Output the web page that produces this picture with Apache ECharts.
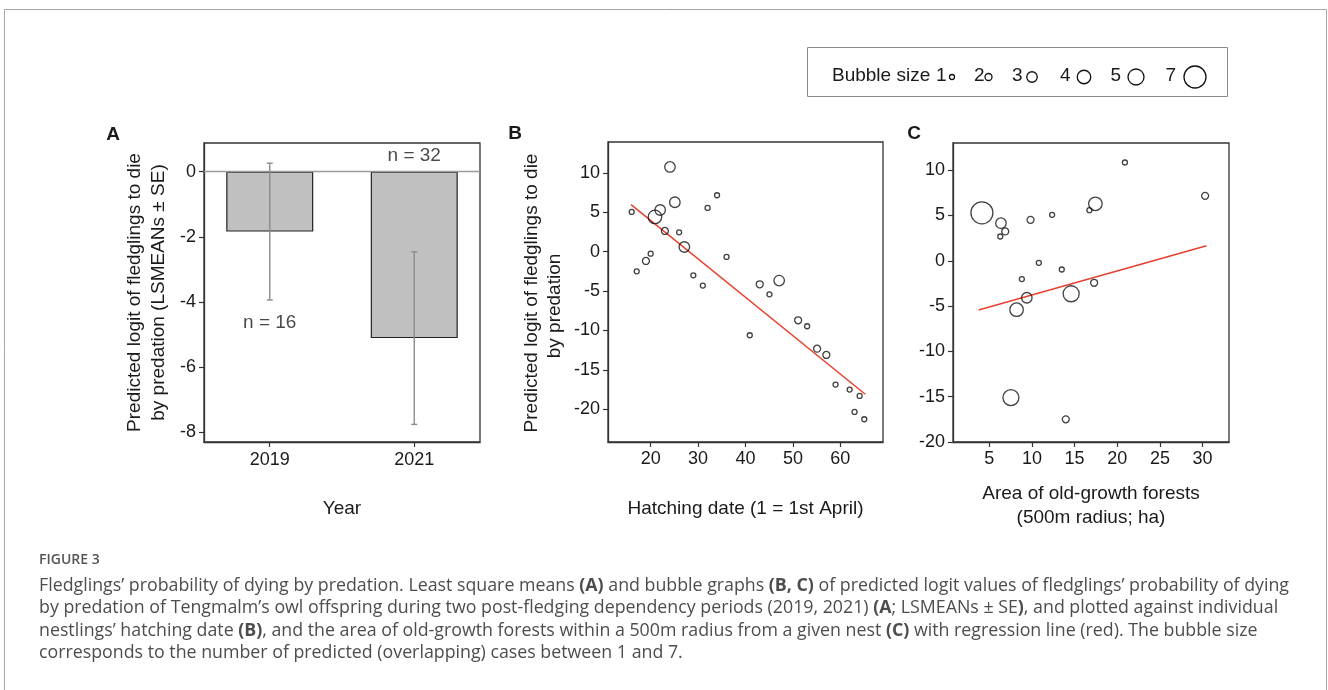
<!DOCTYPE html>
<html><head><meta charset="utf-8">
<script src="https://cdn.jsdelivr.net/npm/echarts@6/dist/echarts.min.js"></script>
<style>html,body{margin:0;padding:0;background:#fff;} #c{width:1328px;height:690px;}</style>
</head><body><div id="c"></div>
<script>
// ---------- data ----------
const yearCats = ['2019', '2021'];
const lsmeans = [-1.84, -5.11];
const lsmeanSE = [2.1, 2.65];
const nLabels = ['n = 16', 'n = 32'];
const nLabelY = [-4.65, 0.5];

const hatchDate = [16, 17.05, 19, 20, 20.9, 22, 23, 24.07, 25.1, 26, 27.1, 29, 31, 32, 34, 36, 40.9, 43, 45.05, 47.1, 51.1, 53, 55.1, 57.05, 59, 61.96, 63, 64.07, 65.05];
const logitB = [5.05, -2.48, -1.17, -0.24, 4.42, 5.3, 2.64, 10.76, 6.28, 2.47, 0.6, -2.99, -4.3, 5.56, 7.17, -0.66, -10.6, -4.13, -5.4, -3.66, -8.7, -9.46, -12.3, -13.1, -16.86, -17.5, -20.33, -18.3, -21.26];
const countB = [1, 1, 2, 1, 4, 3, 2, 3, 3, 1, 3, 1, 1, 1, 1, 1, 1, 2, 1, 3, 2, 1, 2, 2, 1, 1, 1, 1, 1];
const regB = [[15.86, 5.98], [65.26, -18.09]];

const forestArea = [4.14, 6.37, 6.29, 6.87, 7.54, 8.2, 8.82, 9.4, 9.84, 10.81, 12.37, 13.5, 13.97, 14.6, 16.74, 17.29, 17.44, 20.9, 30.3];
const logitC = [5.29, 4.15, 2.68, 3.24, -15.1, -5.4, -2.02, -4.08, 4.52, -0.22, 5.07, -0.96, -17.5, -3.64, 5.59, -2.43, 6.29, 10.85, 7.17];
const countC = [7, 3, 1, 2, 5, 4, 1, 3, 2, 1, 1, 1, 2, 5, 1, 2, 4, 1, 2];
const regC = [[3.75, -5.44], [30.47, 1.65]];

const ticksAy = [-8, -6, -4, -2, 0];
const ticksBy = [-20, -15, -10, -5, 0, 5, 10];
const ticksBx = [20, 30, 40, 50, 60];
const ticksCy = [-20, -15, -10, -5, 0, 5, 10];
const ticksCx = [5, 10, 15, 20, 25, 30];
const legendCounts = [1, 2, 3, 4, 5, 7];

const captionTitle = 'FIGURE 3';
const captionLines = [
  'Fledglings\u2019 probability of dying by predation. Least square means {b|(A)} and bubble graphs {b|(B, C)} of predicted logit values of fledglings\u2019 probability of dying',
  'by predation of Tengmalm\u2019s owl offspring during two post-fledging dependency periods (2019, 2021) {b|(A}; LSMEANs \u00b1 SE{b|)}, and plotted against individual',
  'nestlings\u2019 hatching date {b|(B)}, and the area of old-growth forests within a 500m radius from a given nest {b|(C)} with regression line (red). The bubble size',
  'corresponds to the number of predicted (overlapping) cases between 1 and 7.'
];

// ---------- styles ----------
const FONT = 'Liberation Sans, Arial, Helvetica, sans-serif';
const INK = '#1a1a1a';
const AXC = '#333';
const bubbleDiam = {1: 5, 2: 7, 3: 10.5, 4: 13.5, 5: 16, 6: 19, 7: 22};

function valAxis(gi, min, max, ticks, extra) {
  return Object.assign({
    type: 'value', gridIndex: gi, min: min, max: max,
    axisLine: {show: true, onZero: false, lineStyle: {color: AXC, width: 1.3}},
    axisTick: {show: true, inside: false, length: 5, customValues: ticks, lineStyle: {color: AXC, width: 1.2}},
    axisLabel: {customValues: ticks, margin: 8, color: INK, fontSize: 18, fontFamily: FONT},
    splitLine: {show: false},
    nameTextStyle: {color: INK, fontSize: 19, fontFamily: FONT, lineHeight: 24}
  }, extra || {});
}
const gridBase = {show: true, borderColor: AXC, borderWidth: 1.3, backgroundColor: 'transparent', containLabel: false, outerBoundsMode: 'none'};

const bubbleStyle = {color: 'rgba(0,0,0,0)', borderColor: '#111', borderWidth: 1.3};

// ---------- graphics (labels, legend, caption) ----------
const graphics = [];
graphics.push({type: 'rect', shape: {x: 4.5, y: 9.5, width: 1322, height: 720}, style: {fill: 'none', stroke: '#a6a6a6', lineWidth: 1}, silent: true});
[['A', 113, 135], ['B', 515, 134], ['C', 914, 134]].forEach(function (p) {
  graphics.push({type: 'text', x: p[1], y: p[2], style: {text: p[0], font: 'bold 19px ' + FONT, fill: INK, textAlign: 'center', textVerticalAlign: 'middle'}, silent: true});
});
// panel B y title
graphics.push({type: 'text', x: 532, y: 293, rotation: Math.PI / 2, style: {text: 'Predicted logit of fledglings to die', font: '19px ' + FONT, fill: INK, textAlign: 'center', textVerticalAlign: 'middle'}, silent: true});
graphics.push({type: 'text', x: 555, y: 306, rotation: Math.PI / 2, style: {text: 'by predation', font: '19px ' + FONT, fill: INK, textAlign: 'center', textVerticalAlign: 'middle'}, silent: true});
// legend
graphics.push({type: 'rect', shape: {x: 807.5, y: 47.5, width: 420, height: 49}, style: {fill: '#fff', stroke: '#8a8a8a', lineWidth: 1}, silent: true});
graphics.push({type: 'text', x: 832, y: 76, style: {text: 'Bubble size', font: '19px ' + FONT, fill: INK, textVerticalAlign: 'middle'}, silent: true});
const legendLayout = [[936, 952], [974, 988.5], [1012, 1032], [1060, 1084], [1110.5, 1136], [1165.5, 1195]];
legendCounts.forEach(function (c, i) {
  const L = legendLayout[i];
  graphics.push({type: 'text', x: L[0], y: 76, style: {text: String(c), font: '19px ' + FONT, fill: INK, textVerticalAlign: 'middle'}, silent: true});
  graphics.push({type: 'circle', shape: {cx: L[1], cy: 77, r: bubbleDiam[c] / 2}, style: {fill: 'none', stroke: '#111', lineWidth: 1.3}, silent: true});
});
// caption
const CAPFONT = '"Open Sans", Lato, sans-serif';
graphics.push({type: 'text', x: 39, y: 560, style: {text: captionTitle, font: '600 14px ' + CAPFONT, fill: '#555', textVerticalAlign: 'middle'}, silent: true});
captionLines.forEach(function (t, i) {
  graphics.push({type: 'text', x: 39, y: 585.5 + i * 22.6, style: {
    text: t, fill: '#4d4d4d', fontSize: 17.8, fontFamily: CAPFONT, verticalAlign: 'middle',
    rich: {b: {fontWeight: 'bold', fontSize: 17.8, fontFamily: CAPFONT, fill: '#4d4d4d'}}
  }, silent: true});
});

// ---------- option ----------
const option = {
  animation: false,
  backgroundColor: '#fff',
  grid: [
    Object.assign({left: 204, top: 143, width: 276, height: 299}, gridBase),
    Object.assign({left: 608, top: 142, width: 275, height: 300}, gridBase),
    Object.assign({left: 953, top: 143, width: 276, height: 299}, gridBase)
  ],
  xAxis: [
    valAxis(0, -0.455, 1.455, [0, 1], {
      axisLabel: {customValues: [0, 1], margin: 9, color: INK, fontSize: 18, fontFamily: FONT, formatter: function (v) { return yearCats[Math.round(v)]; }},
      name: 'Year', nameLocation: 'middle', nameGap: 55
    }),
    valAxis(1, 11, 69, ticksBx, {name: 'Hatching date (1 = 1st April)', nameLocation: 'middle', nameGap: 55}),
    valAxis(2, 0.75, 33.1, ticksCx, {name: 'Area of old-growth forests\n(500m radius; ha)', nameLocation: 'middle', nameGap: 40})
  ],
  yAxis: [
    valAxis(0, -8.3, 0.88, ticksAy, {name: 'Predicted logit of fledglings to die\nby predation (LSMEANs \u00b1 SE)', nameLocation: 'middle', nameGap: 33}),
    valAxis(1, -24.15, 13.93, ticksBy),
    valAxis(2, -20, 13, ticksCy)
  ],
  series: [
    {
      type: 'bar', xAxisIndex: 0, yAxisIndex: 0, barWidth: 87, silent: true,
      data: lsmeans.map(function (v, i) { return [i, v]; }),
      itemStyle: {color: '#c0c0c0', borderColor: '#222', borderWidth: 1.2},
      markLine: {silent: true, symbol: 'none', label: {show: false}, lineStyle: {color: '#9a9a9a', type: 'solid', width: 1.3}, data: [{yAxis: 0}]}
    },
    {
      type: 'custom', xAxisIndex: 0, yAxisIndex: 0, silent: true, z: 5,
      data: lsmeans.map(function (v, i) { return [i, v - lsmeanSE[i], v + lsmeanSE[i]]; }),
      encode: {x: 0, y: [1, 2]},
      renderItem: function (params, api) {
        const x = api.value(0), lo = api.value(1), hi = api.value(2);
        const pHi = api.coord([x, hi]), pLo = api.coord([x, lo]);
        const w = 3;
        const st = {stroke: '#8c8c8c', lineWidth: 1.4};
        return {type: 'group', children: [
          {type: 'line', shape: {x1: pHi[0], y1: pHi[1], x2: pLo[0], y2: pLo[1]}, style: st},
          {type: 'line', shape: {x1: pHi[0] - w, y1: pHi[1], x2: pHi[0] + w, y2: pHi[1]}, style: st},
          {type: 'line', shape: {x1: pLo[0] - w, y1: pLo[1], x2: pLo[0] + w, y2: pLo[1]}, style: st}
        ]};
      }
    },
    {
      type: 'scatter', xAxisIndex: 0, yAxisIndex: 0, silent: true, symbolSize: 2, z: 6,
      itemStyle: {color: 'rgba(0,0,0,0)'},
      data: nLabelY.map(function (y, i) { return [i, y]; }),
      label: {show: true, position: 'inside', formatter: function (p) { return nLabels[p.dataIndex]; }, color: INK, fontSize: 19, fontFamily: FONT}
    },
    {
      type: 'scatter', xAxisIndex: 1, yAxisIndex: 1, silent: true,
      data: hatchDate.map(function (x, i) { return [x, logitB[i], countB[i]]; }),
      symbolSize: function (v) { return bubbleDiam[v[2]]; },
      itemStyle: bubbleStyle
    },
    {
      type: 'line', xAxisIndex: 1, yAxisIndex: 1, silent: true, symbol: 'none', z: 1,
      data: regB, lineStyle: {color: '#e8402f', width: 1.5}
    },
    {
      type: 'scatter', xAxisIndex: 2, yAxisIndex: 2, silent: true,
      data: forestArea.map(function (x, i) { return [x, logitC[i], countC[i]]; }),
      symbolSize: function (v) { return bubbleDiam[v[2]]; },
      itemStyle: bubbleStyle
    },
    {
      type: 'line', xAxisIndex: 2, yAxisIndex: 2, silent: true, symbol: 'none', z: 1,
      data: regC, lineStyle: {color: '#e8402f', width: 1.5}
    }
  ],
  graphic: graphics
};

const chart = echarts.init(document.getElementById('c'), null, {renderer: 'canvas'});
chart.setOption(option);
</script>
</body></html>
